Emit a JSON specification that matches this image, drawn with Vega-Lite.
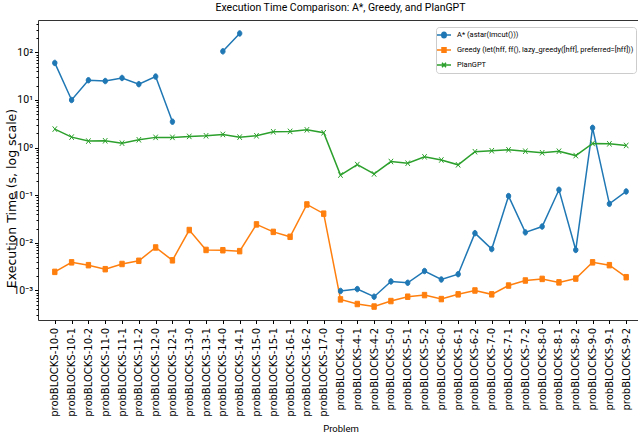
{
  "$schema": "https://vega.github.io/schema/vega-lite/v6.json",
  "width": 605,
  "height": 300,
  "autosize": {"type": "none"},
  "padding": {"left": 38, "top": 20, "right": 0, "bottom": 116},
  "background": "white",
  "title": {"text": "Execution Time Comparison: A*, Greedy, and PlanGPT", "font": "Roboto", "fontSize": 10.5, "fontWeight": "normal", "color": "#000", "anchor": "middle", "frame": "group", "baseline": "alphabetic", "offset": 7, "dy": 10},
  "config": {"view": {"stroke": "#333", "strokeWidth": 1}},
  "data": {"values": [
    {"p": "probBLOCKS-10-0", "s": "A*", "t": 60},
    {"p": "probBLOCKS-10-1", "s": "A*", "t": 10},
    {"p": "probBLOCKS-10-2", "s": "A*", "t": 26},
    {"p": "probBLOCKS-11-0", "s": "A*", "t": 25},
    {"p": "probBLOCKS-11-1", "s": "A*", "t": 29},
    {"p": "probBLOCKS-11-2", "s": "A*", "t": 21.5},
    {"p": "probBLOCKS-12-0", "s": "A*", "t": 31},
    {"p": "probBLOCKS-12-1", "s": "A*", "t": 3.5},
    {"p": "probBLOCKS-13-0", "s": "A*", "t": null},
    {"p": "probBLOCKS-13-1", "s": "A*", "t": null},
    {"p": "probBLOCKS-14-0", "s": "A*", "t": 105},
    {"p": "probBLOCKS-14-1", "s": "A*", "t": 250},
    {"p": "probBLOCKS-15-0", "s": "A*", "t": null},
    {"p": "probBLOCKS-15-1", "s": "A*", "t": null},
    {"p": "probBLOCKS-16-1", "s": "A*", "t": null},
    {"p": "probBLOCKS-16-2", "s": "A*", "t": null},
    {"p": "probBLOCKS-17-0", "s": "A*", "t": null},
    {"p": "probBLOCKS-4-0", "s": "A*", "t": 0.00098},
    {"p": "probBLOCKS-4-1", "s": "A*", "t": 0.00107},
    {"p": "probBLOCKS-4-2", "s": "A*", "t": 0.00074},
    {"p": "probBLOCKS-5-0", "s": "A*", "t": 0.00155},
    {"p": "probBLOCKS-5-1", "s": "A*", "t": 0.00145},
    {"p": "probBLOCKS-5-2", "s": "A*", "t": 0.00256},
    {"p": "probBLOCKS-6-0", "s": "A*", "t": 0.0017},
    {"p": "probBLOCKS-6-1", "s": "A*", "t": 0.0022},
    {"p": "probBLOCKS-6-2", "s": "A*", "t": 0.016},
    {"p": "probBLOCKS-7-0", "s": "A*", "t": 0.0074},
    {"p": "probBLOCKS-7-1", "s": "A*", "t": 0.096},
    {"p": "probBLOCKS-7-2", "s": "A*", "t": 0.0166},
    {"p": "probBLOCKS-8-0", "s": "A*", "t": 0.022},
    {"p": "probBLOCKS-8-1", "s": "A*", "t": 0.13},
    {"p": "probBLOCKS-8-2", "s": "A*", "t": 0.0071},
    {"p": "probBLOCKS-9-0", "s": "A*", "t": 2.6},
    {"p": "probBLOCKS-9-1", "s": "A*", "t": 0.066},
    {"p": "probBLOCKS-9-2", "s": "A*", "t": 0.12},
    {"p": "probBLOCKS-10-0", "s": "Greedy", "t": 0.00246},
    {"p": "probBLOCKS-10-1", "s": "Greedy", "t": 0.0039},
    {"p": "probBLOCKS-10-2", "s": "Greedy", "t": 0.0034},
    {"p": "probBLOCKS-11-0", "s": "Greedy", "t": 0.0028},
    {"p": "probBLOCKS-11-1", "s": "Greedy", "t": 0.0036},
    {"p": "probBLOCKS-11-2", "s": "Greedy", "t": 0.0042},
    {"p": "probBLOCKS-12-0", "s": "Greedy", "t": 0.008},
    {"p": "probBLOCKS-12-1", "s": "Greedy", "t": 0.0043},
    {"p": "probBLOCKS-13-0", "s": "Greedy", "t": 0.0186},
    {"p": "probBLOCKS-13-1", "s": "Greedy", "t": 0.0071},
    {"p": "probBLOCKS-14-0", "s": "Greedy", "t": 0.007},
    {"p": "probBLOCKS-14-1", "s": "Greedy", "t": 0.0067},
    {"p": "probBLOCKS-15-0", "s": "Greedy", "t": 0.0244},
    {"p": "probBLOCKS-15-1", "s": "Greedy", "t": 0.017},
    {"p": "probBLOCKS-16-1", "s": "Greedy", "t": 0.0134},
    {"p": "probBLOCKS-16-2", "s": "Greedy", "t": 0.064},
    {"p": "probBLOCKS-17-0", "s": "Greedy", "t": 0.041},
    {"p": "probBLOCKS-4-0", "s": "Greedy", "t": 0.00065},
    {"p": "probBLOCKS-4-1", "s": "Greedy", "t": 0.00052},
    {"p": "probBLOCKS-4-2", "s": "Greedy", "t": 0.00046},
    {"p": "probBLOCKS-5-0", "s": "Greedy", "t": 0.0006},
    {"p": "probBLOCKS-5-1", "s": "Greedy", "t": 0.00074},
    {"p": "probBLOCKS-5-2", "s": "Greedy", "t": 0.0008},
    {"p": "probBLOCKS-6-0", "s": "Greedy", "t": 0.00066},
    {"p": "probBLOCKS-6-1", "s": "Greedy", "t": 0.00083},
    {"p": "probBLOCKS-6-2", "s": "Greedy", "t": 0.001},
    {"p": "probBLOCKS-7-0", "s": "Greedy", "t": 0.00083},
    {"p": "probBLOCKS-7-1", "s": "Greedy", "t": 0.00127},
    {"p": "probBLOCKS-7-2", "s": "Greedy", "t": 0.00162},
    {"p": "probBLOCKS-8-0", "s": "Greedy", "t": 0.00175},
    {"p": "probBLOCKS-8-1", "s": "Greedy", "t": 0.00148},
    {"p": "probBLOCKS-8-2", "s": "Greedy", "t": 0.00178},
    {"p": "probBLOCKS-9-0", "s": "Greedy", "t": 0.0039},
    {"p": "probBLOCKS-9-1", "s": "Greedy", "t": 0.0034},
    {"p": "probBLOCKS-9-2", "s": "Greedy", "t": 0.0019},
    {"p": "probBLOCKS-10-0", "s": "PlanGPT", "t": 2.45},
    {"p": "probBLOCKS-10-1", "s": "PlanGPT", "t": 1.66},
    {"p": "probBLOCKS-10-2", "s": "PlanGPT", "t": 1.37},
    {"p": "probBLOCKS-11-0", "s": "PlanGPT", "t": 1.39},
    {"p": "probBLOCKS-11-1", "s": "PlanGPT", "t": 1.24},
    {"p": "probBLOCKS-11-2", "s": "PlanGPT", "t": 1.46},
    {"p": "probBLOCKS-12-0", "s": "PlanGPT", "t": 1.64},
    {"p": "probBLOCKS-12-1", "s": "PlanGPT", "t": 1.64},
    {"p": "probBLOCKS-13-0", "s": "PlanGPT", "t": 1.72},
    {"p": "probBLOCKS-13-1", "s": "PlanGPT", "t": 1.77},
    {"p": "probBLOCKS-14-0", "s": "PlanGPT", "t": 1.89},
    {"p": "probBLOCKS-14-1", "s": "PlanGPT", "t": 1.66},
    {"p": "probBLOCKS-15-0", "s": "PlanGPT", "t": 1.77},
    {"p": "probBLOCKS-15-1", "s": "PlanGPT", "t": 2.15},
    {"p": "probBLOCKS-16-1", "s": "PlanGPT", "t": 2.19},
    {"p": "probBLOCKS-16-2", "s": "PlanGPT", "t": 2.36},
    {"p": "probBLOCKS-17-0", "s": "PlanGPT", "t": 2.05},
    {"p": "probBLOCKS-4-0", "s": "PlanGPT", "t": 0.265},
    {"p": "probBLOCKS-4-1", "s": "PlanGPT", "t": 0.44},
    {"p": "probBLOCKS-4-2", "s": "PlanGPT", "t": 0.28},
    {"p": "probBLOCKS-5-0", "s": "PlanGPT", "t": 0.51},
    {"p": "probBLOCKS-5-1", "s": "PlanGPT", "t": 0.47},
    {"p": "probBLOCKS-5-2", "s": "PlanGPT", "t": 0.64},
    {"p": "probBLOCKS-6-0", "s": "PlanGPT", "t": 0.55},
    {"p": "probBLOCKS-6-1", "s": "PlanGPT", "t": 0.435},
    {"p": "probBLOCKS-6-2", "s": "PlanGPT", "t": 0.82},
    {"p": "probBLOCKS-7-0", "s": "PlanGPT", "t": 0.86},
    {"p": "probBLOCKS-7-1", "s": "PlanGPT", "t": 0.9},
    {"p": "probBLOCKS-7-2", "s": "PlanGPT", "t": 0.84},
    {"p": "probBLOCKS-8-0", "s": "PlanGPT", "t": 0.78},
    {"p": "probBLOCKS-8-1", "s": "PlanGPT", "t": 0.84},
    {"p": "probBLOCKS-8-2", "s": "PlanGPT", "t": 0.68},
    {"p": "probBLOCKS-9-0", "s": "PlanGPT", "t": 1.22},
    {"p": "probBLOCKS-9-1", "s": "PlanGPT", "t": 1.2},
    {"p": "probBLOCKS-9-2", "s": "PlanGPT", "t": 1.11}
  ]},
  "encoding": {
    "x": {
      "field": "p", "type": "ordinal", "sort": null,
      "scale": {"type": "point", "padding": 1.67},
      "axis": {
        "title": "Problem", "titleFont": "Roboto", "titleFontSize": 9.5, "titleFontWeight": "normal", "titleColor": "#000",
        "titleBaseline": "top", "titleY": 103,
        "labelAngle": 270, "labelAlign": "right", "labelBaseline": "middle",
        "labelFont": "DejaVu Sans", "labelFontSize": 10, "labelColor": "#000", "labelPadding": 4, "labelOverlap": false,
        "tickSize": 3.5, "tickColor": "#000", "domain": false, "grid": false
      }
    },
    "y": {
      "field": "t", "type": "quantitative",
      "scale": {"type": "log", "domain": [0.00024, 478], "nice": false},
      "axis": {
        "title": "Execution Time (s, log scale)", "titleFont": "DejaVu Sans", "titleFontSize": 12.5, "titleFontWeight": "normal", "titleColor": "#000",
        "titleAngle": 270, "titleX": -27, "titleY": 178, "titleAlign": "center", "titleBaseline": "middle",
        "values": [0.0003, 0.0004, 0.0005, 0.0006, 0.0007, 0.0008, 0.0009, 0.001, 0.002, 0.003, 0.004, 0.005, 0.006, 0.007, 0.008, 0.009, 0.01, 0.02, 0.03, 0.04, 0.05, 0.06, 0.07, 0.08, 0.09, 0.1, 0.2, 0.3, 0.4, 0.5, 0.6, 0.7, 0.8, 0.9, 1, 2, 3, 4, 5, 6, 7, 8, 9, 10, 20, 30, 40, 50, 60, 70, 80, 90, 100, 200, 300, 400],
        "labelExpr": "abs(log(datum.value)/LN10 - round(log(datum.value)/LN10)) > 0.001 ? '' : (round(log(datum.value)/LN10) == 2 ? '10²' : round(log(datum.value)/LN10) == 1 ? '10¹' : round(log(datum.value)/LN10) == 0 ? '10⁰' : round(log(datum.value)/LN10) == -1 ? '10⁻¹' : round(log(datum.value)/LN10) == -2 ? '10⁻²' : '10⁻³')",
        "labelFont": "Roboto", "labelFontSize": 10.5, "labelColor": "#000", "labelPadding": 2, "labelOverlap": false,
        "tickSize": {"condition": {"test": "abs(log(datum.value)/LN10 - round(log(datum.value)/LN10)) < 0.001", "value": 3.5}, "value": 2},
        "tickColor": "#000", "domain": false, "grid": false
      }
    },
    "color": {
      "field": "s", "type": "nominal",
      "scale": {"domain": ["A*", "Greedy", "PlanGPT"], "range": ["#1f77b4", "#ff7f0e", "#2ca02c"]},
      "legend": {
        "title": null, "orient": "none", "legendX": 398, "legendY": 7, "padding": 2,
        "fillColor": "white", "strokeColor": "#cccccc", "cornerRadius": 3,
        "labelFont": "Roboto", "labelFontSize": 7.5, "labelColor": "#000", "labelOffset": 7, "labelLimit": 400,
        "symbolSize": 100, "rowPadding": 3,
        "labelExpr": "datum.value == 'A*' ? 'A* (astar(lmcut()))' : datum.value == 'Greedy' ? 'Greedy (let(hff, ff(), lazy_greedy([hff], preferred=[hff]))' : 'PlanGPT'",
        "encode": {"symbols": {"update": {
          "shape": {"signal": "datum.value == 'A*' ? 'M-1.4,0H1.4M-0.45,0A0.45,0.55 0 1,0 0.45,0A0.45,0.55 0 1,0 -0.45,0Z' : datum.value == 'Greedy' ? 'M-1.4,0H1.4M-0.4,-0.45H0.4V0.45H-0.4Z' : 'M-1.4,0H1.4M-0.4,-0.45L0.4,0.45M-0.4,0.45L0.4,-0.45'"},
          "stroke": {"signal": "scale('color', datum.value)"},
          "fill": {"signal": "scale('color', datum.value)"},
          "strokeWidth": {"value": 1.5},
          "opacity": {"value": 1}
        }}}
      }
    }
  },
  "layer": [
    {"mark": {"type": "line", "strokeWidth": 1.5, "invalid": "break-paths-filter-domains"}},
    {
      "transform": [{"filter": "datum.s == 'A*'"}],
      "mark": {"type": "point", "filled": true, "size": 30, "strokeWidth": 1, "opacity": 1, "stroke": "#1f77b4", "shape": "M-0.8,0A0.8,1 0 1,0 0.8,0A0.8,1 0 1,0 -0.8,0Z"}
    },
    {
      "transform": [{"filter": "datum.s == 'Greedy'"}],
      "mark": {"type": "point", "filled": true, "size": 30, "strokeWidth": 1, "opacity": 1, "stroke": "#ff7f0e", "shape": "M-0.8,-1H0.8V1H-0.8Z"}
    },
    {
      "transform": [{"filter": "datum.s == 'PlanGPT'"}],
      "mark": {"type": "point", "filled": true, "size": 30, "strokeWidth": 1, "opacity": 1, "stroke": "#2ca02c", "shape": "M-0.8,-1L0.8,1M-0.8,1L0.8,-1"}
    }
  ]
}
